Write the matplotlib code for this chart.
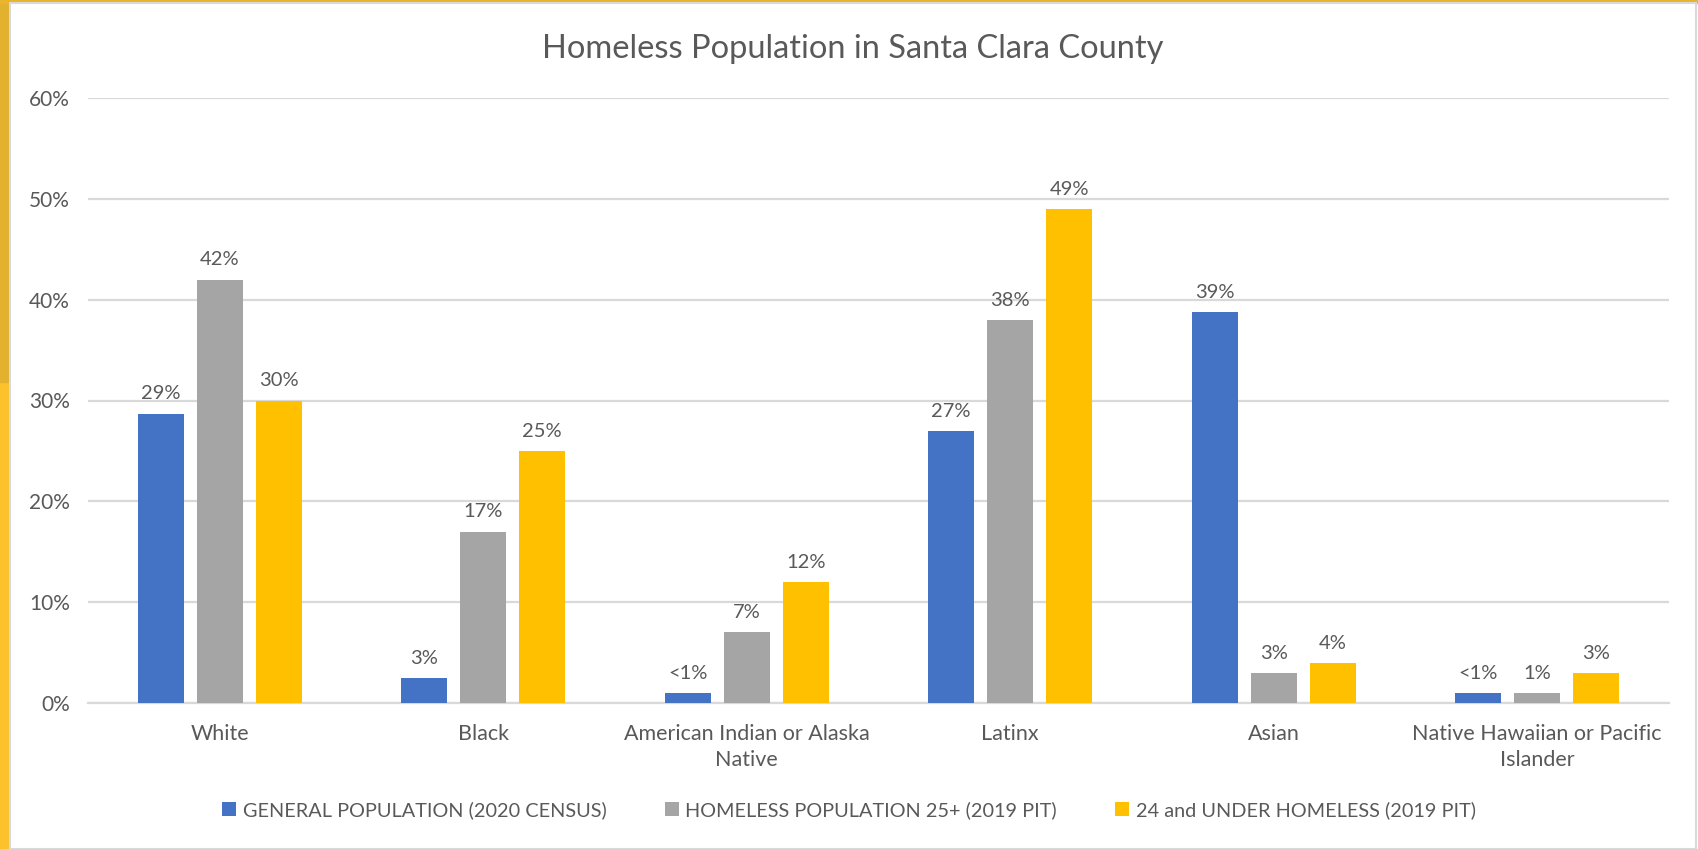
import matplotlib
matplotlib.use("Agg")
import matplotlib.pyplot as plt
import numpy as np
from matplotlib.patches import Rectangle, Patch
from matplotlib.ticker import FuncFormatter, MultipleLocator

categories = ["White", "Black", "American Indian or Alaska\nNative", "Latinx", "Asian",
              "Native Hawaiian or Pacific\nIslander"]
series_names = ["GENERAL POPULATION (2020 CENSUS)", "HOMELESS POPULATION 25+ (2019 PIT)",
                "24 and UNDER HOMELESS (2019 PIT)"]
general_pop = [28.7, 2.5, 1.0, 27.0, 38.8, 1.0]
homeless_25 = [42.0, 17.0, 7.0, 38.0, 3.0, 1.0]
under_24 = [30.0, 25.0, 12.0, 49.0, 4.0, 3.0]
general_labels = ["29%", "3%", "<1%", "27%", "39%", "<1%"]
homeless_25_labels = ["42%", "17%", "7%", "38%", "3%", "1%"]
under_24_labels = ["30%", "25%", "12%", "49%", "4%", "3%"]
colors = ["#4472C4", "#A5A5A5", "#FFC000"]

plt.rcParams['font.family'] = ['Lato', 'DejaVu Sans']
text_color = "#595959"

W, H = 1698, 849
fig = plt.figure(figsize=(W / 100, H / 100), dpi=100)
fig.patch.set_facecolor("white")

# decorative frame
fig.add_artist(Rectangle((0, 0), 10 / W, 1, transform=fig.transFigure, color="#FBC22B", zorder=0))
fig.add_artist(Rectangle((0, 0.55), 10 / W, 0.45, transform=fig.transFigure, color="#E2B12D", zorder=0))
fig.add_artist(Rectangle((0, 1 - 3 / H), 1, 3 / H, transform=fig.transFigure, color="#E8B52C", zorder=0))
fig.add_artist(Rectangle((10 / W, 0), (W - 12) / W, 1 - 3 / H, transform=fig.transFigure,
                         facecolor="white", edgecolor="#D9D9D9", linewidth=1.5, zorder=0))

ax = fig.add_axes([88 / W, 146 / H, (1669 - 88) / W, (751 - 146) / H])
ax.set_facecolor("none")

x = np.arange(len(categories))
width = 0.175
offset = 0.224
all_series = [general_pop, homeless_25, under_24]
all_labels = [general_labels, homeless_25_labels, under_24_labels]
for j, (vals, labs) in enumerate(zip(all_series, all_labels)):
    bars = ax.bar(x + (j - 1) * offset, vals, width, color=colors[j], label=series_names[j], zorder=3)
    ax.bar_label(bars, labels=labs, padding=8, fontsize=14.5, color=text_color)

ax.set_ylim(0, 60)
ax.set_xlim(-0.5, len(categories) - 0.5)
ax.yaxis.set_major_locator(MultipleLocator(10))
ax.yaxis.set_major_formatter(FuncFormatter(lambda v, p: f"{v:.0f}%"))
ax.grid(axis="y", color="#D9D9D9", linewidth=1.6, zorder=0)
for s in ["top", "right", "left"]:
    ax.spines[s].set_visible(False)
ax.spines["bottom"].set_color("#D9D9D9")
ax.spines["bottom"].set_linewidth(1.6)
ax.tick_params(axis="both", length=0, labelsize=15, colors=text_color)
ax.tick_params(axis="y", pad=13)
ax.tick_params(axis="x", pad=15, labelsize=15.5)
ax.set_xticks(x)
ax.set_xticklabels(categories, linespacing=1.4)

fig.text(853 / W, 1 - 49 / H, "Homeless Population in Santa Clara County", ha="center", va="center",
         fontsize=23.5, color=text_color)

handles = [Patch(facecolor=c) for c in colors]
fig.legend(handles, series_names, loc="center", bbox_to_anchor=(849 / W, 1 - 810 / H), ncol=3,
           frameon=False, fontsize=14.3, labelcolor=text_color, handlelength=0.7, handleheight=0.7,
           handletextpad=0.35, columnspacing=2.9)

fig.savefig("out.png", dpi=100)
